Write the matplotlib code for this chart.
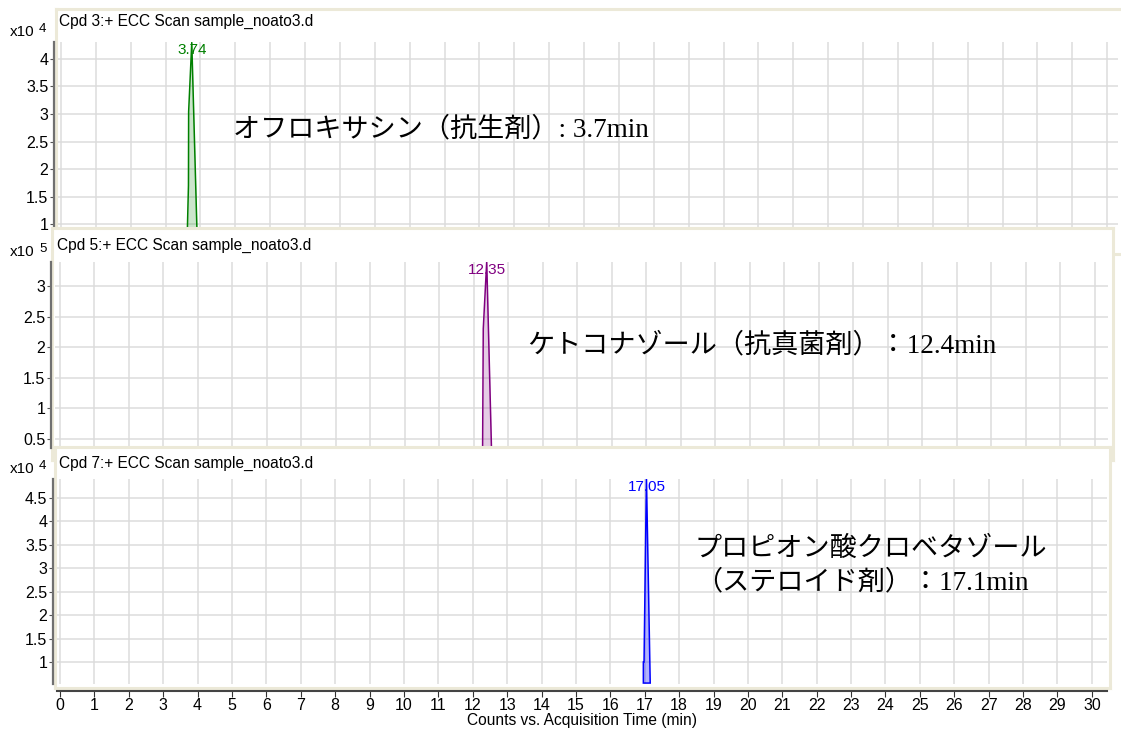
import matplotlib
matplotlib.use("Agg")
import matplotlib.pyplot as plt

# --- data (intensities in units of the panel's x10^n) ---
titles = ["Cpd 3:+ ECC Scan sample_noato3.d",
          "Cpd 5:+ ECC Scan sample_noato3.d",
          "Cpd 7:+ ECC Scan sample_noato3.d"]
exponents = ["4", "5", "4"]
peak_labels = ["3.74", "12.35", "17.05"]
peak_rt = [3.75, 12.37, 17.05]
colors = ["#008000", "#800080", "#0000FF"]

rt_oflox = [3.62, 3.655, 3.66, 3.75, 3.90]
int_oflox = [0.80, 1.70, 3.04, 4.30, 0.85]
rt_keto = [12.25, 12.27, 12.37, 12.51]
int_keto = [0.30, 2.30, 3.40, 0.30]
rt_clob = [16.96, 16.96, 16.98, 17.05, 17.16]
int_clob = [0.55, 1.00, 1.00, 4.95, 0.55]

yticks = [[1, 1.5, 2, 2.5, 3, 3.5, 4],
          [0.5, 1, 1.5, 2, 2.5, 3],
          [1, 1.5, 2, 2.5, 3, 3.5, 4, 4.5]]
xticks = list(range(0, 31))

notes = ["オフロキサシン（抗生剤）: 3.7min",
         "ケトコナゾール（抗真菌剤）：12.4min",
         "プロピオン酸クロベタゾール\n（ステロイド剤）：17.1min"]

# --- layout in pixels of the original screenshot ---
W, H = 1121, 731
frames = [(56, 9, 1130, 254), (52, 228, 1113, 460), (55, 447, 1110, 688)]
plots = [(58, 42, 1118, 230), (55, 262, 1108, 448), (57, 479, 1107, 684)]
xlims = [(-0.086, 30.31), (-0.145, 30.38), (-0.087, 30.44)]
ylims = [(0.891, 4.309), (0.353, 3.392), (0.53, 4.905)]
title_pos = [(59, 21), (57, 245), (59, 463)]
exp_pos = [(10, 36), (10, 256), (10, 473)]
note_pos = [(233, 130), (527, 346), (695, 566)]

FRAME = "#ECE9D8"
plt.rcParams["font.family"] = ["Liberation Sans", "DejaVu Sans"]
JP = ["Liberation Serif", "Noto Sans CJK JP"]


def box(x0, y0, x1, y1):
    return [x0 / W, 1 - y1 / H, (x1 - x0) / W, (y1 - y0) / H]


def fx(px):
    return px / W


def fy(py):
    return 1 - py / H


fig = plt.figure(figsize=(W / 100, H / 100), dpi=100)
fig.patch.set_facecolor("white")

series = [(rt_oflox, int_oflox), (rt_keto, int_keto), (rt_clob, int_clob)]

for i in range(3):
    # beige window frame with title
    fr = fig.add_axes(box(*frames[i]))
    fr.set_xticks([])
    fr.set_yticks([])
    fr.set_facecolor("white")
    for s in fr.spines.values():
        s.set_color(FRAME)
        s.set_linewidth(2.2)
    fr.text(fx(title_pos[i][0]), fy(title_pos[i][1]), titles[i],
            transform=fig.transFigure, fontsize=11.2, va="center", ha="left")

    ax = fig.add_axes(box(*plots[i]))
    ax.set_facecolor("none")
    ax.set_xlim(*xlims[i])
    ax.set_ylim(*ylims[i])
    ax.set_xticks(xticks)
    ax.set_yticks(yticks[i])
    ax.set_yticklabels([f"{v:g}" for v in yticks[i]])
    ax.grid(True, color="#DCDCDC", lw=1.1)
    ax.set_axisbelow(True)
    for side in ["top", "right"]:
        ax.spines[side].set_visible(False)
    ax.spines["left"].set_position(("outward", 3))
    ax.spines["left"].set_color("#707070")
    ax.spines["left"].set_linewidth(1.6)
    ax.tick_params(axis="y", direction="out", length=3, width=0.8,
                   color="#555555", labelsize=11.5, pad=1)

    t, v = series[i]
    c = colors[i]
    if i < 2:
        ax.fill_between(t, v, ylims[i][0] - 1, color=c, alpha=0.2, lw=0)
        ax.plot(t, v, color=c, lw=1.1)
    else:
        ax.fill(t, v, facecolor=c, alpha=0.3, edgecolor="none")
        ax.fill(t, v, facecolor="none", edgecolor=c, lw=1.1)

    ax.annotate(peak_labels[i], (peak_rt[i], ylims[i][1]), xytext=(0, -8),
                textcoords="offset pixels", ha="center", va="center",
                color=c, fontsize=11, annotation_clip=False)

    if i < 2:
        ax.spines["bottom"].set_visible(False)
        ax.tick_params(axis="x", bottom=False, labelbottom=False)
    else:
        ax.spines["bottom"].set_position(("outward", 5))
        ax.spines["bottom"].set_color("#444444")
        ax.spines["bottom"].set_linewidth(1.5)
        ax.tick_params(axis="x", direction="out", length=4, width=0.8,
                       color="#333333", labelsize=11.5, pad=1)
        ax.set_xlabel("Counts vs. Acquisition Time (min)", fontsize=11.2,
                      labelpad=0)

    ax.text(fx(note_pos[i][0]), fy(note_pos[i][1]), notes[i],
            transform=fig.transFigure, family=JP, fontsize=19.5,
            ha="left", va="center", linespacing=1.4)

    # "x10 n" multiplier above each y axis
    fig.text(fx(exp_pos[i][0]), fy(exp_pos[i][1]), "x10", fontsize=11,
             va="baseline")
    fig.text(fx(exp_pos[i][0] + 29), fy(exp_pos[i][1] - 4), exponents[i],
             fontsize=9.5, va="baseline")

fig.savefig("out.png", dpi=100)
